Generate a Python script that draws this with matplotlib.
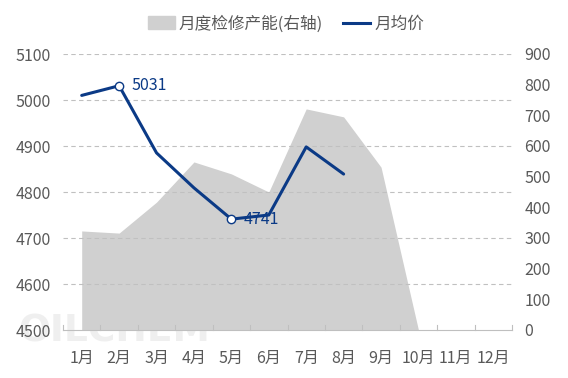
import matplotlib
matplotlib.use("Agg")
import matplotlib.pyplot as plt
from matplotlib.patches import Patch
from matplotlib.lines import Line2D

plt.rcParams['font.family'] = ['Noto Sans CJK SC', 'DejaVu Sans']

months = ['1月', '2月', '3月', '4月', '5月', '6月', '7月', '8月', '9月', '10月', '11月', '12月']
capacity = [323, 316, 417, 548, 509, 450, 721, 695, 531, 0, 0, 0]
price = [5010, 5031, 4885, 4809, 4741, 4750, 4898, 4839]
left_ticks = [4500, 4600, 4700, 4800, 4900, 5000, 5100]
right_ticks = [0, 100, 200, 300, 400, 500, 600, 700, 800, 900]
label_idx = [1, 4]

txt = '#595959'
blue = '#0B3A86'
fill = '#D0D0D0'
fs = 11.5

fig = plt.figure(figsize=(5.68, 3.78), dpi=100)
ax = fig.add_axes([63/568, 1-330/378, (512-63)/568, (330-54)/378])
ax2 = ax.twinx()

x = list(range(len(months)))
ax2.fill_between(x[:len(capacity)], capacity, 0, color=fill, lw=0, zorder=1)
ax2.set_ylim(0, 900)
ax2.set_yticks(right_ticks)
ax2.text(-45/449, -12/276, 'OILCHEM', transform=ax2.transAxes, fontsize=27, color='#EFEFEF',
         fontweight='bold', family='DejaVu Sans', va='baseline', ha='left', zorder=0.5, clip_on=False)

ax.set_zorder(ax2.get_zorder() + 1)
ax.patch.set_visible(False)
ax.plot(range(len(price)), price, color=blue, lw=2.2, zorder=5, solid_capstyle='round')
for i in label_idx:
    ax.plot(i, price[i], 'o', ms=6, mfc='white', mec=blue, mew=1, zorder=6)
    ax.annotate(str(price[i]), (i, price[i]), xytext=(9, 0), textcoords='offset points',
                va='center', ha='left', color=blue, fontsize=fs, zorder=7)
ax.set_ylim(4500, 5100)
ax.set_yticks(left_ticks)
ax.set_xlim(-0.5, 11.5)
ax.set_xticks(x)
ax.set_xticklabels(months)
for t in left_ticks[1:]:
    ax.axhline(t, color='#C0C0C0', lw=0.8, ls=(0, (4, 3)), zorder=0)

for a in (ax, ax2):
    for s in a.spines.values():
        s.set_visible(False)
    a.tick_params(length=0, colors=txt, labelsize=fs)
    a.tick_params(axis='y', pad=9)
ax.spines['bottom'].set_visible(True)
ax.spines['bottom'].set_color('#BFBFBF')
ax.tick_params(axis='x', pad=14)
for b in [i + 0.5 for i in range(-1, 12)]:
    ax.plot([b, b], [4500, 4511], color='#BFBFBF', lw=0.8, clip_on=False, zorder=2)

handles = [Patch(color=fill, label='月度检修产能(右轴)'), Line2D([], [], color=blue, lw=2.2, label='月均价')]
fig.legend(handles=handles, loc='center', bbox_to_anchor=(286/568, 1-24/378), ncol=2, frameon=False,
           fontsize=12, labelcolor=txt, handlelength=1.6, handleheight=0.8, columnspacing=1.2,
           handletextpad=0.25)

fig.savefig('out.png', dpi=100)
